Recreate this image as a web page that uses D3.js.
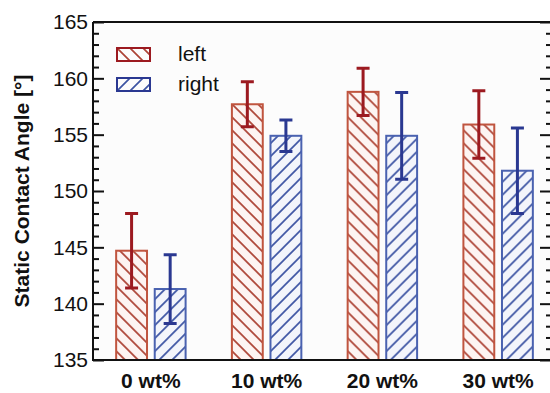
<!DOCTYPE html>
<html>
<head>
<meta charset="utf-8">
<script src="https://cdn.jsdelivr.net/npm/d3@7"></script>
<style>
  body { margin: 0; background: #fff; }
  svg { display: block; font-family: "Liberation Sans", Arial, sans-serif; }
</style>
</head>
<body>
<div id="chart"></div>
<script>
const W = 550, H = 393;
const M = { left: 93, top: 22, right: 551, bottom: 360 };

// data
const categories = ["0 wt%", "10 wt%", "20 wt%", "30 wt%"];
const series = ["left", "right"];
const leftValues = [144.7, 157.7, 158.8, 155.9];
const leftErrors = [3.3, 2.0, 2.1, 3.0];
const rightValues = [141.3, 154.9, 154.9, 151.8];
const rightErrors = [3.05, 1.4, 3.85, 3.8];
const yTicks = [135, 140, 145, 150, 155, 160, 165];

const colors = {
    left: { stroke: "#c0553f", hatch: "#ad4436", fill: "#fdf4f2", err: "#9c1a20" },
    right: { stroke: "#4a62b0", hatch: "#3d54a3", fill: "#f3f5fb", err: "#2a3891" }
};

const rows = categories.map((c, i) => ({
    cat: c,
    bars: [
        { key: "left", v: leftValues[i], e: leftErrors[i] },
        { key: "right", v: rightValues[i], e: rightErrors[i] }
    ]
}));

const svg = d3.select("#chart").append("svg")
    .attr("width", W).attr("height", H);

// --- hatch patterns ---
const defs = svg.append("defs");
const P = 13;
function hatch(id, color, dir) {
    const p = defs.append("pattern")
        .attr("id", id)
        .attr("patternUnits", "userSpaceOnUse")
        .attr("width", P).attr("height", P);
    const d = dir === "back"
        ? `M0,0 L${P},${P} M${-P/2},${P/2} L${P/2},${P*1.5} M${P/2},${-P/2} L${P*1.5},${P/2}`
        : `M0,${P} L${P},0 M${-P/2},${P/2} L${P/2},${-P/2} M${P/2},${P*1.5} L${P*1.5},${P/2}`;
    p.append("path").attr("d", d)
        .attr("stroke", color).attr("stroke-width", 1.7).attr("fill", "none");
}
hatch("hatch-left", colors.left.hatch, "back");
hatch("hatch-right", colors.right.hatch, "fwd");

// --- scales ---
const y = d3.scaleLinear().domain([135, 165]).range([M.bottom, M.top]);
const x0 = d3.scaleBand().domain(categories)
    .range([M.left, 556]).paddingInner(0.4).paddingOuter(0.2);
const x1 = d3.scaleBand().domain(series)
    .range([0, x0.bandwidth()]).paddingInner(0.2);

// plot background
svg.append("rect")
    .attr("x", M.left).attr("y", M.top)
    .attr("width", M.right - M.left).attr("height", M.bottom - M.top)
    .attr("fill", "#fcfcfc");

// --- bars ---
const groups = svg.selectAll("g.group")
    .data(rows)
    .enter()
    .append("g")
    .attr("class", "group")
    .attr("transform", d => `translate(${x0(d.cat)},0)`);

const bar = groups.selectAll("g.bar")
    .data(d => d.bars)
    .enter()
    .append("g")
    .attr("class", "bar");

bar.append("rect")
    .attr("x", d => x1(d.key))
    .attr("y", d => y(d.v))
    .attr("width", x1.bandwidth())
    .attr("height", d => y(135) - y(d.v))
    .attr("fill", d => colors[d.key].fill);

bar.append("rect")
    .attr("x", d => x1(d.key))
    .attr("y", d => y(d.v))
    .attr("width", x1.bandwidth())
    .attr("height", d => y(135) - y(d.v))
    .attr("fill", d => `url(#hatch-${d.key})`)
    .attr("stroke", d => colors[d.key].stroke)
    .attr("stroke-width", 2);

// error bars
const capW = 13;
bar.append("path")
    .attr("d", d => {
        const cx = x1(d.key) + x1.bandwidth() / 2;
        const t = y(d.v + d.e), b = y(d.v - d.e);
        return `M${cx},${t} L${cx},${b} M${cx - capW/2},${t} L${cx + capW/2},${t} M${cx - capW/2},${b} L${cx + capW/2},${b}`;
    })
    .attr("stroke", d => colors[d.key].err)
    .attr("stroke-width", 3)
    .attr("fill", "none");

// --- axes frame ---
const frame = svg.append("g").attr("stroke", "#111").attr("stroke-width", 2).attr("fill", "none");
frame.append("path").attr("d", `M${M.left},${M.top} L${M.left},${M.bottom} L${W},${M.bottom} M${M.left},${M.top} L${W},${M.top}`);

// left axis ticks (inward)
const minor = d3.range(136, 165, 1).filter(v => v % 5 !== 0);
const leftAxis = svg.append("g")
    .attr("transform", `translate(${M.left},0)`)
    .call(d3.axisLeft(y).tickValues(yTicks).tickSizeInner(-11).tickSizeOuter(0).tickPadding(16).tickFormat(d3.format("d")));
leftAxis.select(".domain").remove();
leftAxis.selectAll("line").attr("stroke", "#111").attr("stroke-width", 2);
leftAxis.selectAll("text")
    .attr("font-size", 21).attr("fill", "#111")
    .attr("font-family", "'Liberation Sans', Arial, sans-serif")
    .attr("x", -5);

const leftMinor = svg.append("g")
    .attr("transform", `translate(${M.left},0)`)
    .call(d3.axisLeft(y).tickValues(minor).tickSize(-6).tickFormat(""));
leftMinor.select(".domain").remove();
leftMinor.selectAll("line").attr("stroke", "#111").attr("stroke-width", 2);

// right axis ticks (inward)
const rightAxis = svg.append("g")
    .attr("transform", `translate(${M.right},0)`)
    .call(d3.axisRight(y).tickValues(yTicks).tickSize(-11).tickFormat(""));
rightAxis.select(".domain").remove();
rightAxis.selectAll("line").attr("stroke", "#111").attr("stroke-width", 2);

const rightMinor = svg.append("g")
    .attr("transform", `translate(${M.right},0)`)
    .call(d3.axisRight(y).tickValues(minor).tickSize(-5).tickFormat(""));
rightMinor.select(".domain").remove();
rightMinor.selectAll("line").attr("stroke", "#111").attr("stroke-width", 2);

// x labels
svg.append("g")
    .selectAll("text")
    .data(categories)
    .enter()
    .append("text")
    .attr("x", d => x0(d) + x0.bandwidth() / 2)
    .attr("y", 388)
    .attr("text-anchor", "middle")
    .attr("font-size", 21)
    .attr("font-weight", "bold")
    .attr("fill", "#111")
    .text(d => d);

// y title
svg.append("text")
    .attr("transform", `translate(29,${(M.top + M.bottom) / 2}) rotate(-90)`)
    .attr("text-anchor", "middle")
    .attr("font-size", 21)
    .attr("font-weight", "bold")
    .attr("fill", "#111")
    .text("Static Contact Angle [°]");

// --- legend ---
const legend = svg.append("g")
    .selectAll("g")
    .data(series)
    .enter()
    .append("g")
    .attr("transform", (d, i) => `translate(117,${48 + i * 30})`);

legend.append("rect")
    .attr("width", 33).attr("height", 13)
    .attr("fill", d => `url(#hatch-${d})`)
    .attr("stroke", d => colors[d].err)
    .attr("stroke-width", 2);

legend.append("text")
    .attr("x", 61).attr("y", 13)
    .attr("font-size", 21)
    .attr("fill", "#111")
    .text(d => d);
</script>
</body>
</html>
